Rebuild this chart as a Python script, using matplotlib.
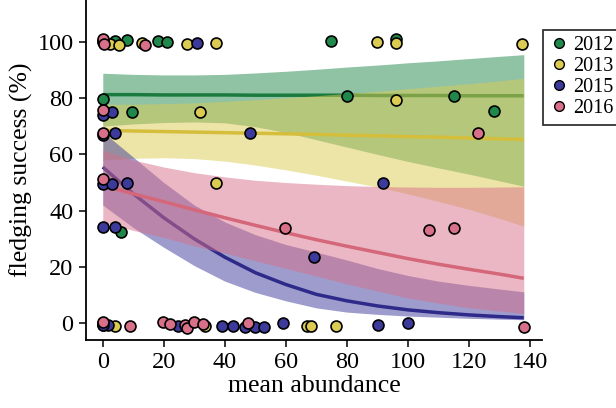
import matplotlib
matplotlib.use("Agg")
import matplotlib.pyplot as plt
from matplotlib.lines import Line2D

plt.rcParams["font.family"] = ["Liberation Serif", "DejaVu Serif"]

YEARS = ["2012", "2013", "2015", "2016"]
MARKER_COLORS = ["#21884b", "#dccb52", "#3c3a9a", "#d8708a"]
LINE_COLORS = ["#1b7a3e", "#d4be3c", "#2e2a8a", "#d4677a"]

# scatter points per year (mean abundance, fledging success %)
X_2012 = [0, 4, 8, 18.2, 21, 74.8, 96.1, 0, 9.5, 6, 80, 115.2, 128.2, 0]
Y_2012 = [100, 100.3, 100.5, 100.2, 99.8, 100.4, 101, 79.8, 74.9, 32.5, 80.7, 80.7, 75.5, -0.5]

X_2013 = [2.4, 5.3, 13, 27.7, 37.2, 90, 96.1, 137.3, 31.9, 96.2, 37, 4, 33.5, 66.8, 68.1, 76.4, 0]
Y_2013 = [99.3, 99, 99.7, 99.3, 99.5, 100, 99.4, 99.2, 74.9, 79.3, 49.7, -1, -1, -1, -1, -1, 0]

X_2015 = [30.8, 0, 0, 3, 4, 0, 48.3, 0, 3.1, 7.9, 0.2, 4, 91.9, 69.3,
          1.8, 24.8, 39, 42.8, 46.6, 49.9, 53, 59, 90.3, 100.1, 0]
Y_2015 = [99.7, 100.3, 74, 75.1, 67.7, 66.8, 67.5, 49.5, 49.4, 49.9, 34.1, 34.1, 49.7, 23.7,
          -0.6, -1, -1, -1, -1.2, -1.2, -1.2, 0, -0.6, 0.2, -0.5]

X_2016 = [0, 0.5, 14, 0, 0, 0, 59.7, 123, 107, 115,
          0, 9, 19.6, 22, 27, 27.7, 30, 33, 47.7, 138.1]
Y_2016 = [101, 99.3, 99, 75.7, 67.5, 51.1, 33.7, 67.7, 33, 33.7,
          0.5, -1, 0.6, -0.4, -0.6, -1.5, 0.6, -0.4, 0.2, -1.2]

FIT_X = [0, 10, 20, 30, 40, 50, 60, 70, 80, 90, 100, 110, 120, 130, 138]

FIT_2012 = [81.2, 81.2, 81.1, 81.1, 81.1, 81.0, 81.0, 81.0, 81.0, 80.9, 80.9, 80.9, 80.8, 80.8, 80.8]
UP_2012 = [88.8, 88.4, 88.2, 88.2, 88.4, 88.9, 89.5, 90.2, 91.0, 91.7, 92.5, 93.2, 94.0, 94.8, 95.4]
LO_2012 = [70.0, 70.8, 71.3, 71.5, 71.2, 69.8, 67.8, 65.2, 62.6, 60.0, 57.5, 55.2, 53.0, 50.6, 48.7]

FIT_2013 = [68.5, 68.3, 68.1, 67.9, 67.7, 67.5, 67.3, 67.1, 66.8, 66.6, 66.3, 66.1, 65.8, 65.5, 65.3]
UP_2013 = [77.8, 77.8, 78.0, 78.3, 78.8, 79.4, 80.1, 80.8, 81.6, 82.4, 83.3, 84.2, 85.1, 86.1, 87.0]
LO_2013 = [58.0, 58.6, 58.8, 58.5, 57.6, 56.2, 54.5, 52.6, 50.5, 48.4, 46.0, 43.3, 40.5, 37.3, 34.5]

FIT_2015 = [55.5, 46.0, 37.5, 30.0, 23.5, 18.0, 13.8, 10.3, 8.0, 6.2, 4.8, 3.8, 3.0, 2.4, 2.0]
UP_2015 = [68.0, 59.0, 50.0, 42.0, 36.0, 31.5, 28.0, 25.3, 22.5, 19.5, 17.0, 15.0, 13.5, 12.2, 11.2]
LO_2015 = [42.0, 34.0, 27.0, 20.5, 15.0, 11.0, 8.0, 5.5, 4.0, 3.2, 2.6, 2.2, 1.8, 1.5, 1.3]

FIT_2016 = [49.0, 46.0, 43.2, 40.3, 37.5, 34.8, 32.2, 29.7, 27.4, 25.2, 23.0, 21.0, 19.2, 17.5, 16.0]
UP_2016 = [61.5, 58.0, 55.5, 53.5, 52.0, 50.8, 50.0, 49.4, 48.9, 48.6, 48.4, 48.3, 48.3, 48.4, 48.5]
LO_2016 = [36.0, 33.0, 30.5, 27.5, 25.0, 22.2, 19.5, 16.8, 14.0, 11.5, 9.0, 7.2, 5.5, 4.4, 3.5]

POINTS = [(X_2012, Y_2012), (X_2013, Y_2013), (X_2015, Y_2015), (X_2016, Y_2016)]
FITS = [(FIT_2012, UP_2012, LO_2012), (FIT_2013, UP_2013, LO_2013),
        (FIT_2015, UP_2015, LO_2015), (FIT_2016, UP_2016, LO_2016)]


def main():
    fig = plt.figure(figsize=(6.16, 4.08), dpi=100)
    ax = fig.add_axes([0.1396, 0.1667, 0.7404, 0.8333])

    # bands and fitted lines, one year after the other
    for i in range(len(YEARS)):
        fit, up, lo = FITS[i]
        ax.fill_between(FIT_X, lo, up, color=MARKER_COLORS[i], alpha=0.5,
                        linewidth=0, zorder=2)
        ax.plot(FIT_X, fit, color=LINE_COLORS[i], linewidth=2.5, zorder=2,
                solid_capstyle="butt")

    for i in range(len(YEARS)):
        xs, ys = POINTS[i]
        ax.scatter(xs, ys, s=62, color=MARKER_COLORS[i], edgecolor="black",
                   linewidth=1.2, zorder=5, clip_on=False)

    ax.set_xlim(-5.5, 144)
    ax.set_ylim(-5.9, 114.8)
    ax.set_xticks(range(0, 141, 20))
    ax.set_yticks(range(0, 101, 20))
    ax.spines["top"].set_visible(False)
    ax.spines["right"].set_visible(False)
    for side in ["left", "bottom"]:
        ax.spines[side].set_linewidth(1.3)
    ax.tick_params(direction="out", length=5, width=1.1, labelsize=17.5, pad=4)
    ax.set_xlabel("mean abundance", fontsize=18.5, labelpad=1)
    ax.set_ylabel("fledging success (%)", fontsize=18.5, labelpad=3)

    handles = [Line2D([], [], marker="o", linestyle="none", markersize=7,
                      markerfacecolor=MARKER_COLORS[i], markeredgecolor="black",
                      markeredgewidth=1.0) for i in range(len(YEARS))]
    leg = fig.legend(handles, YEARS, loc="upper left",
                     bbox_to_anchor=(543 / 616, 1 - 30 / 408),
                     fontsize=14.5, frameon=True, fancybox=False,
                     handletextpad=0.2, handlelength=1.0, borderpad=0.3,
                     labelspacing=0.1, borderaxespad=0)
    leg.get_frame().set_edgecolor("black")
    leg.get_frame().set_linewidth(1.3)

    fig.savefig("out.png", dpi=100)


main()
